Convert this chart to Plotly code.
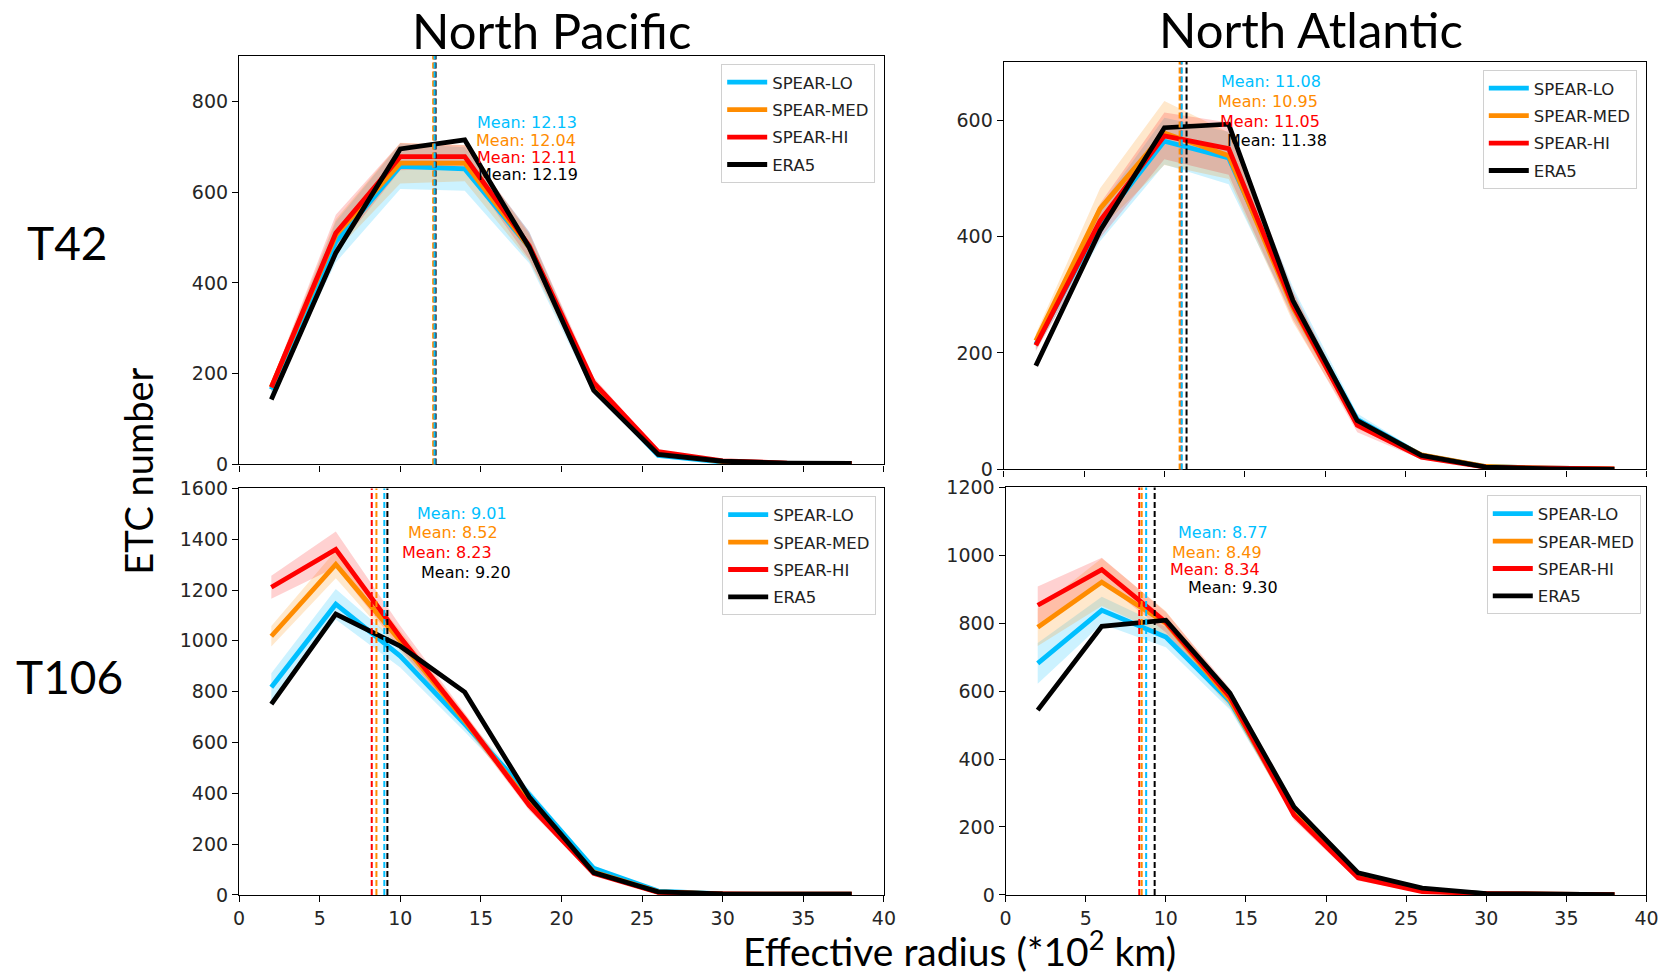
import plotly.graph_objects as go

# ---------------- data ----------------
radius = [2, 6, 10, 14, 18, 22, 26, 30, 34, 38]
series_names = ["SPEAR-LO", "SPEAR-MED", "SPEAR-HI", "ERA5"]

# North Pacific, T42
np42_lo = [165, 490, 657, 651, 478, 170, 20, 5, 2, 1]
np42_med = [170, 505, 664, 664, 478, 175, 25, 6, 2, 1]
np42_hi = [170, 510, 678, 678, 482, 180, 28, 8, 3, 2]
np42_era = [143, 466, 695, 715, 478, 163, 22, 7, 3, 2]
np42_lo_sd = [12, 45, 50, 48, 35, 15, 5, 2, 1, 1]
np42_med_sd = [10, 35, 45, 40, 30, 12, 4, 2, 1, 1]
np42_hi_sd = [10, 40, 30, 25, 30, 12, 4, 2, 1, 1]
np42_means = [12.13, 12.04, 12.11, 12.19]

# North Atlantic, T42
na42_lo = [215, 422, 564, 535, 288, 86, 24, 5, 2, 1]
na42_med = [221, 448, 578, 539, 278, 80, 25, 5, 2, 1]
na42_hi = [213, 427, 573, 551, 282, 76, 21, 4, 2, 1]
na42_era = [178, 410, 587, 593, 290, 84, 24, 4, 1, 0]
na42_lo_sd = [10, 30, 40, 45, 25, 10, 4, 1, 1, 0]
na42_med_sd = [12, 35, 55, 40, 25, 10, 4, 1, 1, 0]
na42_hi_sd = [10, 30, 40, 45, 25, 12, 4, 1, 1, 0]
na42_means = [11.08, 10.95, 11.05, 11.38]

# North Pacific, T106
np106_lo = [817, 1144, 940, 672, 395, 105, 15, 4, 3, 3]
np106_med = [1018, 1301, 1000, 685, 362, 90, 12, 4, 3, 3]
np106_hi = [1211, 1360, 1014, 692, 352, 85, 10, 4, 3, 3]
np106_era = [751, 1105, 979, 798, 385, 88, 12, 4, 3, 3]
np106_lo_sd = [55, 60, 45, 30, 20, 10, 4, 1, 1, 1]
np106_med_sd = [40, 55, 40, 25, 20, 10, 4, 1, 1, 1]
np106_hi_sd = [45, 70, 45, 25, 20, 10, 4, 1, 1, 1]
np106_means = [9.01, 8.52, 8.23, 9.20]

# North Atlantic, T106
na106_lo = [682, 838, 759, 570, 245, 60, 15, 4, 2, 1]
na106_med = [788, 921, 800, 575, 240, 55, 12, 4, 2, 1]
na106_hi = [853, 958, 803, 583, 235, 50, 10, 4, 2, 1]
na106_era = [544, 791, 809, 594, 259, 65, 20, 4, 2, 1]
na106_lo_sd = [60, 40, 30, 25, 15, 8, 3, 1, 1, 1]
na106_med_sd = [55, 70, 35, 25, 15, 8, 3, 1, 1, 1]
na106_hi_sd = [55, 35, 30, 25, 15, 8, 3, 1, 1, 1]
na106_means = [8.77, 8.49, 8.34, 9.30]

x_ticks = [0, 5, 10, 15, 20, 25, 30, 35, 40]

# ---------------- style / layout ----------------
colors = ["#00BFFF", "#FF8C00", "#FF0000", "#000000"]
fills = ["rgba(0,191,255,0.2)", "rgba(255,140,0,0.2)", "rgba(255,0,0,0.18)"]

W, H = 1665, 990
# observed mapping from figure pixels to the captured picture
SX, OX = 0.991, 3.5
SY, OY = 0.979, 10.0


def px_x(p):
    return ((p - OX) / SX) / W


def px_y(p):
    return 1 - ((p - OY) / SY) / H


panels = [
    dict(ax="", vals=[np42_lo, np42_med, np42_hi, np42_era],
         sds=[np42_lo_sd, np42_med_sd, np42_hi_sd], means=np42_means, ymax=900,
         dom_x=(237, 883), dom_y=(55, 464), legend="legend", leg=(720, 63),
         tfrac=[0.836, 0.794, 0.751, 0.709], xlabels=False),
    dict(ax="2", vals=[na42_lo, na42_med, na42_hi, na42_era],
         sds=[na42_lo_sd, na42_med_sd, na42_hi_sd], means=na42_means, ymax=700,
         dom_x=(1003, 1647), dom_y=(61, 469), legend="legend2", leg=(1483, 69),
         tfrac=[0.951, 0.902, 0.855, 0.806], xlabels=False),
    dict(ax="3", vals=[np106_lo, np106_med, np106_hi, np106_era],
         sds=[np106_lo_sd, np106_med_sd, np106_hi_sd], means=np106_means, ymax=1600,
         dom_x=(237, 883), dom_y=(488, 895), legend="legend3", leg=(721, 496),
         tfrac=[0.939, 0.892, 0.843, 0.794], xlabels=True),
    dict(ax="4", vals=[na106_lo, na106_med, na106_hi, na106_era],
         sds=[na106_lo_sd, na106_med_sd, na106_hi_sd], means=na106_means, ymax=1200,
         dom_x=(1005, 1647), dom_y=(487, 895), legend="legend4", leg=(1487, 495),
         tfrac=[0.89, 0.841, 0.799, 0.755], xlabels=True),
]

fig = go.Figure()
shapes = []
annotations = []
layout_axes = {}

tickfont = dict(family="DejaVu Sans", size=19, color="#262626")

for p in panels:
    xa = "x" + p["ax"]
    ya = "y" + p["ax"]
    # bands
    for i in range(3):
        v = p["vals"][i]
        sd = p["sds"][i]
        upper = [a + b for a, b in zip(v, sd)]
        lower = [a - b for a, b in zip(v, sd)]
        fig.add_trace(go.Scatter(x=radius, y=upper, xaxis=xa, yaxis=ya, mode="lines",
                                 line=dict(width=0, color=fills[i]), showlegend=False,
                                 hoverinfo="skip"))
        fig.add_trace(go.Scatter(x=radius, y=lower, xaxis=xa, yaxis=ya, mode="lines",
                                 line=dict(width=0, color=fills[i]), fill="tonexty",
                                 fillcolor=fills[i], showlegend=False, hoverinfo="skip"))
    # lines
    for i in range(4):
        fig.add_trace(go.Scatter(x=radius, y=p["vals"][i], xaxis=xa, yaxis=ya, mode="lines",
                                 name=series_names[i], legendgroup=series_names[i] + p["ax"],
                                 line=dict(color=colors[i], width=4.8),
                                 showlegend=True, legend=p["legend"]))
    # mean lines (ERA5 first, SPEAR-LO last) + texts
    for i in [3, 2, 1, 0]:
        m = p["means"][i]
        shapes.append(dict(type="line", xref=xa, yref=ya + " domain", x0=m, x1=m, y0=0, y1=1,
                           line=dict(color=colors[i], width=2, dash="6px,3px"), layer="above"))
    for i in range(4):
        m = p["means"][i]
        annotations.append(dict(xref=xa, yref=ya + " domain", x=m * 1.2 + 0.1, y=p["tfrac"][i],
                                xanchor="left", yanchor="middle", showarrow=False,
                                text="Mean: %.2f" % m,
                                font=dict(family="DejaVu Sans", size=16, color=colors[i])))
    xkey = "xaxis" + p["ax"]
    ykey = "yaxis" + p["ax"]
    layout_axes[xkey] = dict(domain=[px_x(p["dom_x"][0]), px_x(p["dom_x"][1])], anchor=ya,
                             range=[0, 40], tickvals=x_ticks, showticklabels=p["xlabels"],
                             ticks="outside", ticklen=6, tickwidth=1.2, tickcolor="black",
                             showline=True, linecolor="black", linewidth=1.3, mirror=True,
                             showgrid=False, zeroline=False, tickfont=tickfont)
    layout_axes[ykey] = dict(domain=[px_y(p["dom_y"][1]), px_y(p["dom_y"][0])], anchor=xa,
                             range=[0, p["ymax"]], dtick=200,
                             ticks="outside", ticklen=6, tickwidth=1.2, tickcolor="black",
                             showline=True, linecolor="black", linewidth=1.3, mirror=True,
                             showgrid=False, zeroline=False, tickfont=tickfont)
    layout_axes[p["legend"]] = dict(x=px_x(p["leg"][0]), y=px_y(p["leg"][1]),
                                    xanchor="left", yanchor="top",
                                    bgcolor="white", bordercolor="#d0d0d0", borderwidth=1,
                                    font=dict(family="DejaVu Sans", size=16.5, color="#222"),
                                    itemwidth=40, tracegroupgap=3)

big = "Lato"


def label(xp, yp, text, size, angle=0):
    return dict(xref="paper", yref="paper", x=px_x(xp), y=px_y(yp), text=text,
                xanchor="center", yanchor="middle", textangle=angle, showarrow=False,
                font=dict(family=big, size=size, color="black"))


annotations += [
    label(550, 29, "North Pacific", 49),
    label(1311, 28, "North Atlantic", 49),
    label(65, 242, "T42", 46),
    label(67, 676, "T106", 46),
    label(136, 471, "ETC number", 38, -90),
    label(959, 949, "Effective radius (*10<sup>2</sup> km)", 39),
]

fig.update_layout(width=W, height=H, margin=dict(l=0, r=0, t=0, b=0),
                  paper_bgcolor="white", plot_bgcolor="white",
                  shapes=shapes, annotations=annotations, **layout_axes)

fig.write_html("out.html")
